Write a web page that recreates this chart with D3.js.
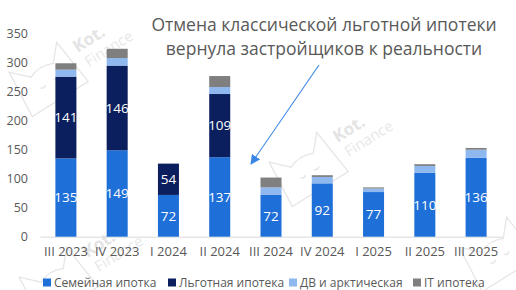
<!DOCTYPE html>
<html>
<head>
<meta charset="utf-8">
<script src="https://cdn.jsdelivr.net/npm/d3@7/dist/d3.min.js"></script>
<style>
  html, body { margin: 0; padding: 0; background: #fff; }
  svg { display: block; font-family: "Open Sans", "Noto Sans", sans-serif; }
</style>
</head>
<body>
<div id="chart"></div>
<script>
// Stacked quarterly mortgage volumes, four programmes.
const quarters = ['III 2023', 'IV 2023', 'I 2024', 'II 2024', 'III 2024', 'IV 2024', 'I 2025', 'II 2025', 'III 2025'];
const family = [135, 149, 72, 137, 72, 92, 77, 110, 136];
const preferential = [141, 146, 54, 109, 0, 0, 0, 0, 0];
const farEast = [12, 13, 0, 12, 13, 11, 6, 12, 14];
const itMortgage = [11, 16, 0, 19, 17, 3, 2, 3, 3];
const seriesNames = ['Семейная ипотка', 'Льготная ипотека', 'ДВ и арктическая', 'IT ипотека'];
const yTicks = [0, 50, 100, 150, 200, 250, 300, 350];
const titleLines = ['Отмена классической льготной ипотеки', 'вернула застройщиков к реальности'];

const colors = ['#1f6fd9', '#0b1f5e', '#8fb8ee', '#7f7f7f'];
const width = 516, height = 290;

const svg = d3.select('#chart').append('svg')
  .attr('width', width).attr('height', height);

// faint "Kot. Finance" watermarks behind everything (last one is the outline only, cut by the edge)
const marks = [[70, 60, true], [330, 150, true], [80, 265, true], [520, 235, false]];
const wm = svg.append('g').attr('fill', 'none').attr('stroke', '#e6e6e6').attr('stroke-width', 1.3);
marks.forEach(([x, y, withText]) => {
  const g = wm.append('g').attr('transform', `translate(${x},${y}) rotate(-32)`);
  g.append('path').attr('d', 'M-62,28 L-58,-22 L-42,-6 Q-30,-12 -16,-6 L-2,-22 L4,28 Z');
  g.append('path').attr('d', 'M-40,8 q3,3 6,0 M-24,8 q3,3 6,0');
  if (!withText) return;
  g.append('text').attr('x', 10).attr('y', -2).attr('stroke', 'none').attr('fill', '#e4e4e4')
    .attr('font-size', 17).attr('font-weight', 700).text('Kot.');
  g.append('text').attr('x', 12).attr('y', 16).attr('stroke', 'none').attr('fill', '#e8e8e8')
    .attr('font-size', 15).text('Finance');
});

const x = d3.scaleBand().domain(quarters).range([40, 502]).paddingInner(0.59).paddingOuter(0.3);
const y = d3.scaleLinear().domain([0, 350]).range([236.7, 33.7]);

const rows = quarters.map((q, i) => ({
  q, s0: family[i], s1: preferential[i], s2: farEast[i], s3: itMortgage[i],
}));
const stack = d3.stack().keys(['s0', 's1', 's2', 's3'])(rows);

// y axis labels only, no line
const yAxis = svg.append('g').attr('transform', 'translate(28,0)')
  .call(d3.axisLeft(y).tickValues(yTicks).tickSize(0).tickPadding(0));
yAxis.select('.domain').remove();
yAxis.selectAll('text').attr('fill', '#595959').attr('font-size', 12.5).attr('font-family', 'Open Sans');

// x axis baseline and labels
const xAxis = svg.append('g').attr('transform', `translate(0,${y(0)})`)
  .call(d3.axisBottom(x).tickSize(0).tickPadding(10).tickSizeOuter(0));
xAxis.select('.domain').attr('stroke', '#d9d9d9');
xAxis.selectAll('text').attr('fill', '#595959').attr('font-size', 13).attr('font-family', 'Open Sans');

const layers = svg.append('g').selectAll('g').data(stack).join('g')
  .attr('fill', (d, i) => colors[i]);
layers.selectAll('rect').data(d => d).join('rect')
  .attr('x', d => x(d.data.q))
  .attr('width', x.bandwidth())
  .attr('y', d => y(d[1]))
  .attr('height', d => y(d[0]) - y(d[1]));

// value labels for the two main series
stack.slice(0, 2).forEach(layer => {
  svg.append('g').selectAll('text').data(layer.filter(d => d[1] - d[0] > 0)).join('text')
    .attr('x', d => x(d.data.q) + x.bandwidth() / 2)
    .attr('y', d => (y(d[0]) + y(d[1])) / 2)
    .attr('dy', '0.36em')
    .attr('text-anchor', 'middle')
    .attr('fill', '#fff')
    .attr('font-size', 13.5)
    .text(d => d[1] - d[0]);
});

// title
svg.append('text').attr('text-anchor', 'middle').attr('fill', '#595959').attr('font-size', 17.5)
  .selectAll('tspan').data(titleLines).join('tspan')
  .attr('x', 324).attr('y', (d, i) => 31 + i * 24).text(d => d);

// arrow pointing at III 2024
svg.append('defs').append('marker').attr('id', 'arr')
  .attr('viewBox', '0 0 10 10').attr('refX', 9).attr('refY', 5)
  .attr('markerWidth', 9).attr('markerHeight', 9).attr('orient', 'auto')
  .append('path').attr('d', 'M0,0 L10,5 L0,10 Z').attr('fill', '#3a86e6');
svg.append('line').attr('x1', 319).attr('y1', 65).attr('x2', 251).attr('y2', 164)
  .attr('stroke', '#3a86e6').attr('stroke-width', 1.1).attr('marker-end', 'url(#arr)');

// legend
const legendX = [43, 168, 289, 413];
const legend = svg.append('g').selectAll('g').data(seriesNames).join('g')
  .attr('transform', (d, i) => `translate(${legendX[i]},283)`);
legend.append('rect').attr('x', 0).attr('y', -4.5).attr('width', 8).attr('height', 8)
  .attr('fill', (d, i) => colors[i]);
legend.append('text').attr('x', 11).attr('dy', '0.35em').attr('fill', '#595959')
  .attr('font-size', 12).text(d => d);
</script>
</body>
</html>
